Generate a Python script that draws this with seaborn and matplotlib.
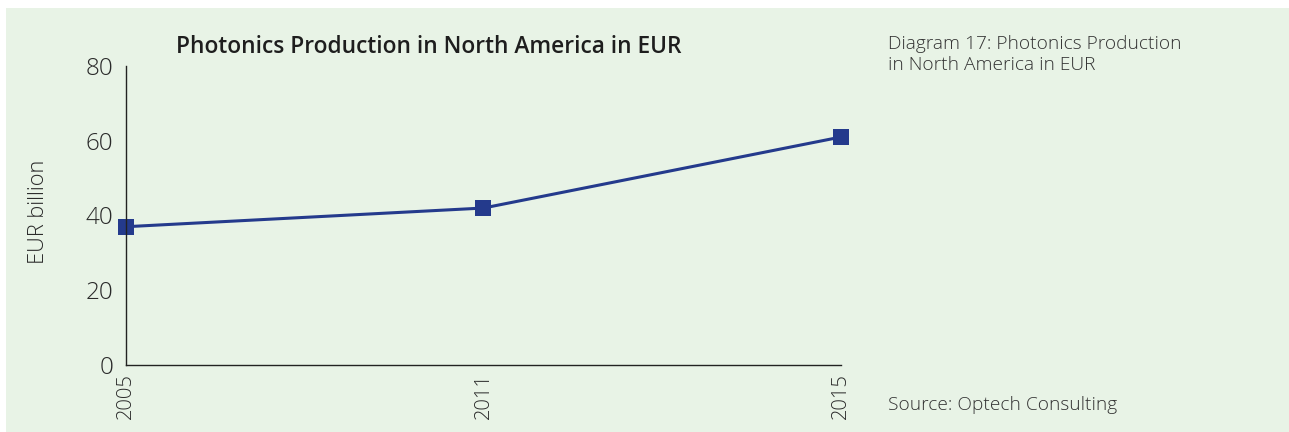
import matplotlib
matplotlib.use("Agg")
import matplotlib.pyplot as plt
import seaborn as sns
import pandas as pd
from matplotlib.patches import Rectangle

years = ["2005", "2011", "2015"]
values = [37, 42, 61]
y_ticks = [0, 20, 40, 60, 80]

title = "Photonics Production in North America in EUR"
caption = "Diagram 17: Photonics Production\nin North America in EUR"
source = "Source: Optech Consulting"
ylabel = "EUR billion"

sns.set_style("white")
plt.rcParams['font.family'] = ['Open Sans', 'DejaVu Sans']

W, H = 1289, 432
fig = plt.figure(figsize=(W / 100, H / 100), dpi=100)
fig.patch.set_facecolor("white")
bg = "#e8f3e6"
fig.patches.append(Rectangle((6 / W, 0), 1 - 6 / W, 1 - 8 / H, transform=fig.transFigure,
                             facecolor=bg, edgecolor="none", zorder=-10))

ax = fig.add_axes([126 / W, (H - 365) / H, (841 - 126) / W, (365 - 66) / H])
ax.set_facecolor("none")

df = pd.DataFrame({"year": years, "value": values})
line_color = "#243a8c"
sns.lineplot(data=df, x="year", y="value", ax=ax, color=line_color, linewidth=2.2,
             marker="s", markersize=12, markeredgewidth=0, sort=False, clip_on=False)

ax.set_xlim(0, len(years) - 1)
ax.set_ylim(0, 80)
ax.set_yticks(y_ticks)
ax.set_yticklabels([str(t) for t in y_ticks], fontsize=17.5, color="#2a2a2a", fontweight="light")
ax.set_xticks(range(len(years)))
ax.set_xticklabels(years, rotation=90, fontsize=14.5, color="#2a2a2a", fontweight="light")
ax.tick_params(axis="y", length=0, pad=9)
ax.tick_params(axis="x", length=0, pad=6)
ax.set_xlabel("")
ax.set_ylabel(ylabel, fontsize=15.7, color="#2a2a2a", fontweight="light")
ax.yaxis.label.set_va("center")
ax.yaxis.set_label_coords((38 - 126) / (841 - 126), 0.513)
for s in ["top", "right"]:
    ax.spines[s].set_visible(False)
for s in ["left", "bottom"]:
    ax.spines[s].set_color("#222222")
    ax.spines[s].set_linewidth(1.0)

fig.text(429 / W, 1 - 47 / H, title, fontsize=16.4, fontweight="semibold", color="#1e1e1e",
         ha="center", va="center")
fig.text(888 / W, 1 - 35 / H, caption, fontsize=13.8, color="#333333", ha="left", va="top",
         linespacing=1.2, fontweight="light")
fig.text(888 / W, 1 - 405 / H, source, fontsize=13.8, color="#333333", ha="left", va="center",
         fontweight="light")

fig.savefig("out.png", dpi=100, facecolor=fig.get_facecolor())
